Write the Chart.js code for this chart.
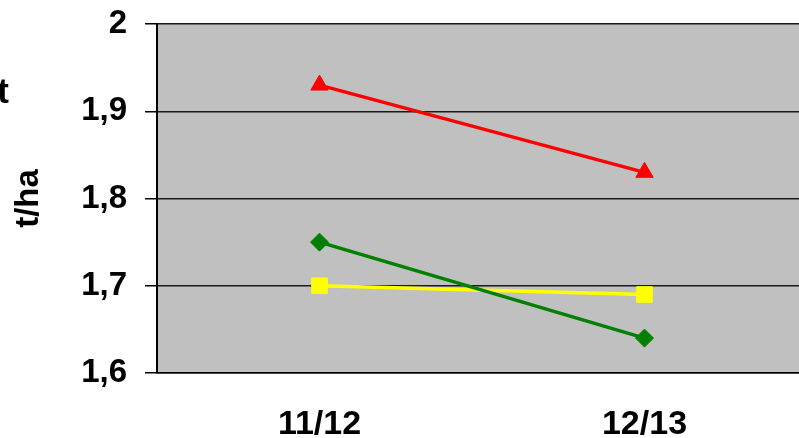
<!DOCTYPE html>
<html>
<head>
<meta charset="utf-8">
<script src="https://cdn.jsdelivr.net/npm/chart.js@4"></script>
<style>
  html, body { margin: 0; padding: 0; background: #ffffff; overflow: hidden; }
  #wrap { width: 819px; height: 438px; }
</style>
</head>
<body>
<div id="wrap"><canvas id="chart" width="819" height="438"></canvas></div>
<script>
// data
const seasons = ['11/12', '12/13'];
const serieRed = [1.93, 1.83];
const serieGreen = [1.75, 1.64];
const serieYellow = [1.70, 1.69];
const yTicks = [1.6, 1.7, 1.8, 1.9, 2];

const fontBold = "'Liberation Sans', Arial, sans-serif";

// grauer Plotbereich
const plotBg = {
    id: 'plotBg',
    beforeDraw(chart) {
        const { ctx, chartArea: a } = chart;
        ctx.save();
        ctx.fillStyle = '#c0c0c0';
        ctx.fillRect(a.left, a.top, a.right - a.left, a.bottom - a.top);
        ctx.restore();
    },
    afterDraw(chart) {
        // abgeschnittener Rest eines Textes am linken Rand
        const ctx = chart.ctx;
        ctx.save();
        ctx.fillStyle = '#000';
        ctx.font = 'bold 35px ' + fontBold;
        ctx.textAlign = 'right';
        ctx.textBaseline = 'alphabetic';
        ctx.fillText('t', 9, 103);
        ctx.restore();
    }
};

const mkSet = (label, data, color, style, r) => ({
    label: label,
    data: data,
    borderColor: color,
    backgroundColor: color,
    borderWidth: 3.5,
    pointStyle: style,
    pointRadius: r,
    pointHoverRadius: r,
    pointBorderWidth: 1,
    pointBorderColor: color,
    pointBackgroundColor: color,
    tension: 0
});

new Chart(document.getElementById('chart').getContext('2d'), {
    type: 'line',
    data: {
        labels: seasons,
        datasets: [
            mkSet('Serie 1', serieRed, '#ff0000', 'triangle', 10),
            mkSet('Serie 2', serieGreen, '#008000', 'rectRot', 9),
            mkSet('Serie 3', serieYellow, '#ffff00', 'rect', 11)
        ]
    },
    options: {
        responsive: false,
        animation: false,
        layout: { padding: { top: 24, left: 0, right: 0, bottom: 0 } },
        plugins: {
            legend: { display: false },
            tooltip: { enabled: false }
        },
        scales: {
            x: {
                offset: true,
                grid: { display: false, drawTicks: false },
                border: { display: true, color: '#000', width: 1.5 },
                ticks: {
                    color: '#000',
                    padding: 31,
                    maxRotation: 0,
                    font: { family: fontBold, size: 34, weight: 'bold' }
                },
                afterFit(scale) { scale.height = 65; }
            },
            y: {
                min: 1.6,
                max: 2,
                afterBuildTicks(scale) {
                    scale.ticks = yTicks.map(v => ({ value: v }));
                },
                grid: {
                    color: '#1a1a1a',
                    lineWidth: 1.5,
                    drawTicks: true,
                    tickLength: 12,
                    tickColor: '#000',
                    tickWidth: 1.5
                },
                border: { display: true, color: '#000', width: 2 },
                ticks: {
                    color: '#000',
                    padding: 18,
                    font: { family: fontBold, size: 33, weight: 'bold' },
                    callback: v => (Math.round(v * 10) / 10).toString().replace('.', ',')
                },
                title: {
                    display: true,
                    text: 't/ha',
                    color: '#000',
                    padding: { top: 9, bottom: 0 },
                    font: { family: fontBold, size: 33, weight: 'bold' }
                },
                afterFit(scale) {
                    scale.width = 157;
                    scale.paddingTop = 0;
                    scale.paddingBottom = 0;
                }
            }
        }
    },
    plugins: [plotBg]
});
</script>
</body>
</html>
